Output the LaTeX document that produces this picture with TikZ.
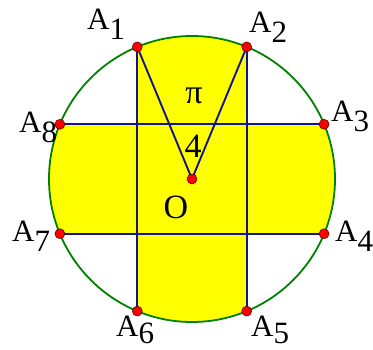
\documentclass[tikz,border=0pt]{standalone}
\usepackage{fontspec}
\setmainfont{Liberation Serif}
\usetikzlibrary{calc}
\definecolor{fillyel}{RGB}{255,255,0}
\definecolor{linblue}{RGB}{20,20,140}
\definecolor{circgreen}{RGB}{0,128,0}
\begin{document}
\begin{tikzpicture}[x=1pt,y=1pt,
  seg/.style={draw=linblue,line width=1.9pt},
  rim/.style={draw=circgreen,line width=1.8pt},
  dot/.style={circle,fill=red,draw=black!70!red,line width=0.5pt,inner sep=0pt,minimum size=10pt},
  lab/.style={inner sep=0pt,font=\fontsize{31}{31}\selectfont,anchor=base west},
  biglab/.style={inner sep=0pt,font=\fontsize{34}{34}\selectfont}]
\useasboundingbox (0,0) rectangle (373,349);
\coordinate (O) at (192,170);
\def\R{143}
\coordinate (P1) at ($(O)+(112.5:\R)$);
\coordinate (P2) at ($(O)+(67.5:\R)$);
\coordinate (P3) at ($(O)+(22.5:\R)$);
\coordinate (P4) at ($(O)+(-22.5:\R)$);
\coordinate (P5) at ($(O)+(-67.5:\R)$);
\coordinate (P6) at ($(O)+(-112.5:\R)$);
\coordinate (P7) at ($(O)+(202.5:\R)$);
\coordinate (P8) at ($(O)+(157.5:\R)$);
% yellow cross clipped to the circle
\begin{scope}
  \clip (O) circle (\R);
  \fill[fillyel] (P6 |- 0,0) rectangle (P2 |- 0,349);
  \fill[fillyel] (P7 -| 0,0) rectangle (P3 -| 373,0);
\end{scope}
% segments
\draw[seg] (P1) -- (P6);
\draw[seg] (P2) -- (P5);
\draw[seg] (P8) -- (P3);
\draw[seg] (P7) -- (P4);
\draw[seg] (P1) -- (O) -- (P2);
% circle
\draw[rim] (O) circle (\R);
% dots
\foreach \i in {1,...,8} { \node[dot] (D\i) at (P\i) {}; }
\node[dot] (DO) at (O) {};
% labels
\node[lab] (L1) at (87,319) {A\raisebox{-9pt}{1}};
\node[lab] (L2) at (249,316) {A\raisebox{-9pt}{2}};
\node[lab] (L3) at (331,227) {A\raisebox{-9pt}{3}};
\node[lab] (L4) at (335,107) {A\raisebox{-9pt}{4}};
\node[lab] (L5) at (251,13) {A\raisebox{-8pt}{5}};
\node[lab] (L6) at (116,13) {A\raisebox{-8pt}{6}};
\node[lab] (L7) at (12,107) {A\raisebox{-9pt}{7}};
\node[lab] (L8) at (19,216) {A\raisebox{-9pt}{8}};
\node[biglab] (pi) at (194,253) {π};
\node[biglab] (four) at (193,203) {4};
\node[biglab] (oo) at (176,142) {O};
\end{tikzpicture}
\end{document}
